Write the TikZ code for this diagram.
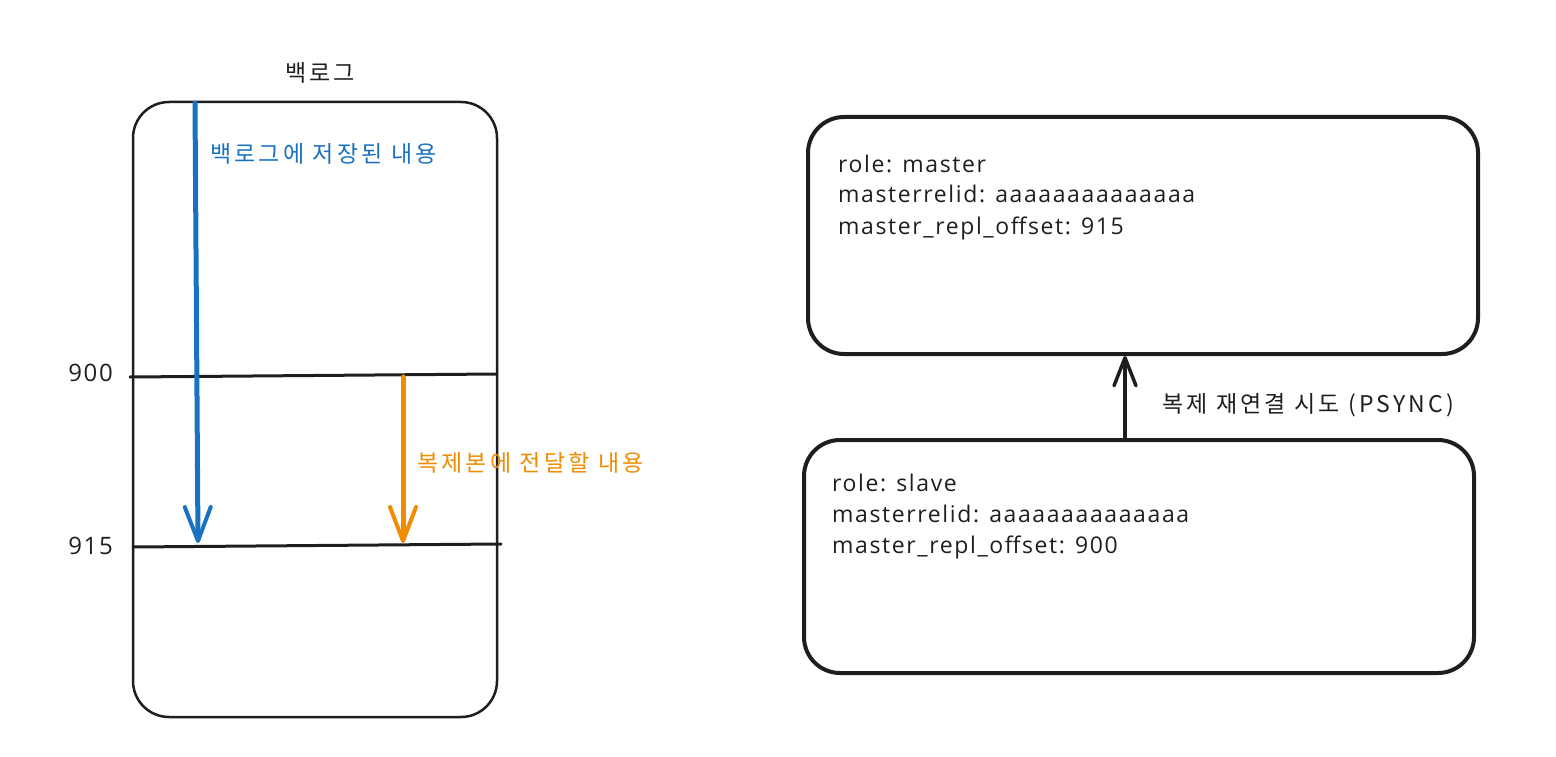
\documentclass[tikz,border=0pt]{standalone}
\usepackage{fontspec}
\setmainfont{Open Sans}[LetterSpace=7]
\newfontfamily\kr{Noto Sans CJK KR}[LetterSpace=14]
\usetikzlibrary{arrows.meta}
\definecolor{eblue}{HTML}{1971C2}
\definecolor{eorange}{HTML}{F08C00}
\definecolor{eink}{HTML}{1E1E1E}
\tikzset{
  box/.style={draw=eink, line width=2.5pt, rounded corners=36pt},
  sbox/.style={draw=eink, line width=4pt, rounded corners=36pt},
  rule/.style={draw=eink, line width=3pt, line cap=round},
  barb/.style={-{Straight Barb[length=34pt, width=26pt, line width=4pt, round]}, line width=5pt, line cap=round},
  lbl/.style={inner sep=0pt, anchor=base east, text=eink, font=\fontsize{24}{28}\selectfont},
  krlbl/.style={inner sep=0pt, anchor=west, font=\kr\fontsize{23}{28}\selectfont},
  info/.style={inner sep=0pt, anchor=base west, text=eink, font=\fontsize{23}{28}\selectfont},
}
\begin{document}
\begin{tikzpicture}[x=1pt, y=-1pt]
\useasboundingbox (0,0) rectangle (1556,757);
% left backlog box
\node[krlbl, anchor=center, text=eink] (title) at (320,73) {백로그};
\draw[box] (133,102) rectangle (497,717);
\coordinate (l900) at (130,377);
\coordinate (r900) at (497,374);
\coordinate (l915) at (133,547);
\coordinate (r915) at (501,544);
\draw[rule] (l900) -- (r900);
\draw[rule] (l915) -- (r915);
\node[lbl] (n900) at (113,381) {900};
\node[lbl] (n915) at (113,554) {915};
% blue arrow
\coordinate (bs) at (195,103);
\coordinate (be) at (198,543);
\draw[barb, eblue] (bs) -- (be);
\node[krlbl, text=eblue] (btext) at (210,154) {백로그에 저장된 내용};
% orange arrow
\coordinate (os) at (403,377);
\coordinate (oe) at (403,543);
\draw[barb, eorange] (os) -- (oe);
\node[krlbl, text=eorange] (otext) at (417,463) {복제본에 전달할 내용};
% master box
\node[sbox, minimum width=670pt, minimum height=237pt, anchor=north west] (master) at (806,115) {};
\node[info] (m1) at (838,172) {role: master};
\node[info] (m2) at (838,203) {masterrelid: aaaaaaaaaaaaaa};
\node[info] (m3) at (838,234) {master\_repl\_offset: 915};
% slave box
\node[sbox, minimum width=670pt, minimum height=233pt, anchor=north west] (slave) at (802,438) {};
\node[info] (s1) at (832,491) {role: slave};
\node[info] (s2) at (832,522) {masterrelid: aaaaaaaaaaaaaa};
\node[info] (s3) at (832,553) {master\_repl\_offset: 900};
% connector
\draw[-{Straight Barb[length=28pt, width=22pt, line width=3.5pt, round]}, line width=4pt, line cap=round, draw=eink] (slave.north -| 1125,0) -- (master.south -| 1125,0);
\node[krlbl, text=eink] (ctext) at (1162,405) {복제 재연결 시도 (PSYNC)};
\end{tikzpicture}
\end{document}
